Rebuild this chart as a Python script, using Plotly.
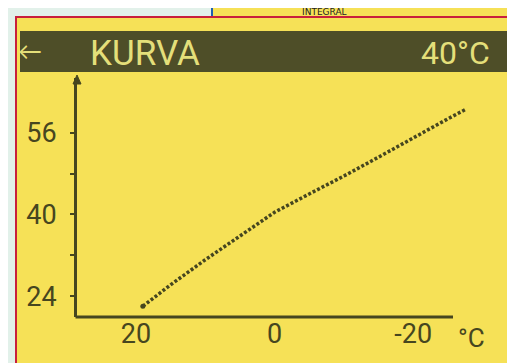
import plotly.graph_objects as go

# Heating curve read from the display
outdoor_temp = [19, 15, 10, 5, 0, -5, -10, -15, -20, -25, -27.5]
flow_temp = [22.0, 26.2, 31.1, 35.7, 40.4, 44.0, 47.5, 51.2, 55.0, 58.7, 60.5]

y_tick_vals = [24, 32, 40, 48, 56]
y_tick_text = ["24", "", "40", "", "56"]
x_tick_vals = [20, 0, -20]
x_tick_text = ["20", "0", "-20"]

header_left = "KURVA"
header_right = "40°C"
x_unit = "°C"
top_text = "INTEGRAL"

W, H = 515, 363
L, R, T, B = 69, 462, 70, 309  # plot area in pixels

LCD = "#f6e157"
DARK = "#46461f"
HEAD = "#4e4e28"
HEADTXT = "#e4df7a"
FONT = "Roboto, Lato, sans-serif"


def xp(px):
    return (px - L) / (R - L)


def yp(py):
    return (B - py) / (B - T)


fig = go.Figure()
fig.add_trace(go.Scatter(
    x=outdoor_temp, y=flow_temp, mode="lines",
    line=dict(color=DARK, width=3.5, dash="3px,2px"),
    hoverinfo="skip", showlegend=False,
))
fig.add_trace(go.Scatter(
    x=outdoor_temp[:1], y=flow_temp[:1], mode="markers",
    marker=dict(color=DARK, size=5), cliponaxis=False,
    hoverinfo="skip", showlegend=False,
))

shapes = [
    # outer frame parts (photo surroundings)
    dict(type="rect", xref="paper", yref="paper", x0=xp(0), x1=xp(7), y0=yp(H), y1=yp(0),
         fillcolor="#e2f1ea", line=dict(width=0), layer="below"),
    dict(type="rect", xref="paper", yref="paper", x0=xp(0), x1=xp(203), y0=yp(8), y1=yp(0),
         fillcolor="#e2f1ea", line=dict(width=0), layer="below"),
    dict(type="line", xref="paper", yref="paper", x0=xp(204), x1=xp(204), y0=yp(8), y1=yp(0),
         line=dict(color="#1f5fb0", width=2)),
    dict(type="line", xref="paper", yref="paper", x0=xp(7), x1=xp(W), y0=yp(9), y1=yp(9),
         line=dict(color="#c8203c", width=2)),
    dict(type="line", xref="paper", yref="paper", x0=xp(8), x1=xp(8), y0=yp(9), y1=yp(H),
         line=dict(color="#c8203c", width=2)),
    # header bar
    dict(type="rect", xref="paper", yref="paper", x0=xp(12), x1=xp(502), y0=yp(64), y1=yp(23),
         fillcolor=HEAD, line=dict(width=0)),
    # x axis line
    dict(type="line", xref="paper", yref="paper", x0=xp(67.5), x1=xp(445), y0=yp(309), y1=yp(309),
         line=dict(color=DARK, width=3)),
    # y axis arrow head
    dict(type="path", xref="paper", yref="paper",
         path=f"M {xp(65)} {yp(76)} L {xp(69)} {yp(67)} L {xp(73)} {yp(76)} Z",
         fillcolor=DARK, line=dict(color=DARK, width=1)),
]

annotations = [
    dict(text=top_text, xref="paper", yref="paper", x=xp(316), y=yp(4), showarrow=False,
         font=dict(family="DejaVu Sans, sans-serif", size=9, color="#222222"),
         xanchor="center", yanchor="middle"),
    dict(text="←", xref="paper", yref="paper", x=xp(22), y=yp(44), showarrow=False,
         font=dict(family=FONT, size=24, color=HEADTXT), xanchor="center", yanchor="middle"),
    dict(text=header_left, xref="paper", yref="paper", x=xp(80), y=yp(45), showarrow=False,
         font=dict(family=FONT, size=35, color=HEADTXT), xanchor="left", yanchor="middle"),
    dict(text=header_right, xref="paper", yref="paper", x=xp(484), y=yp(45), showarrow=False,
         font=dict(family=FONT, size=32, color=HEADTXT), xanchor="right", yanchor="middle"),
    dict(text=x_unit, xref="paper", yref="paper", x=xp(463), y=yp(330), showarrow=False,
         font=dict(family=FONT, size=26, color=DARK), xanchor="center", yanchor="middle"),
]

fig.update_layout(
    width=W, height=H,
    margin=dict(l=L, r=W - R, t=T, b=H - B),
    paper_bgcolor=LCD, plot_bgcolor=LCD,
    shapes=shapes, annotations=annotations,
    font=dict(family=FONT, size=27, color=DARK),
    xaxis=dict(range=[28.5, -28.2], tickvals=x_tick_vals, ticktext=x_tick_text,
               showgrid=False, zeroline=False, showline=False,
               ticks="", ticklabelstandoff=-2,
               tickfont=dict(family=FONT, size=27, color=DARK)),
    yaxis=dict(range=[19.9, 66.7], tickvals=y_tick_vals, ticktext=y_tick_text,
               showgrid=False, zeroline=False, showline=True, linecolor=DARK, linewidth=3,
               ticks="outside", ticklen=4, tickwidth=2, tickcolor=DARK, ticklabelstandoff=8,
               tickfont=dict(family=FONT, size=27, color=DARK)),
)

fig.write_html("out.html")
